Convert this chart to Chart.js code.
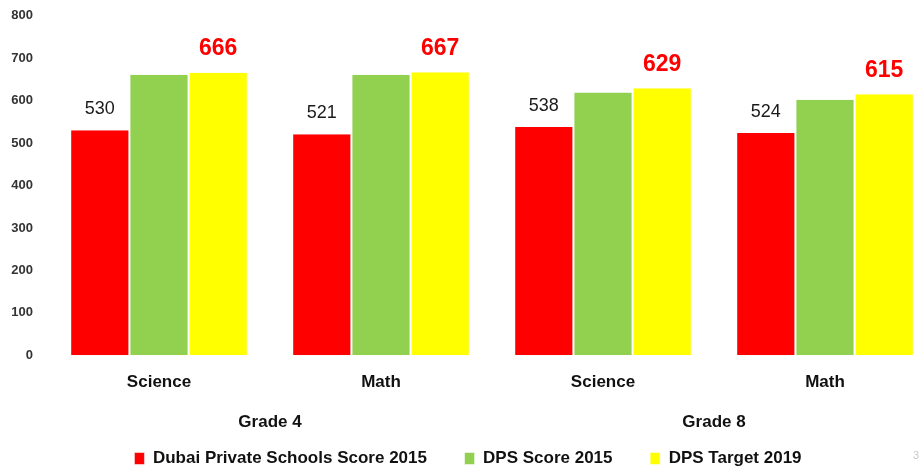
<!DOCTYPE html>
<html>
<head>
<meta charset="utf-8">
<script src="https://cdn.jsdelivr.net/npm/chart.js@4.4.1/dist/chart.umd.min.js"></script>
<style>
  html, body { margin: 0; padding: 0; background: #fff; overflow: hidden; }
  #wrap { position: relative; width: 952px; height: 480px; margin-top: -7px; }
  #pageNo { position: absolute; left: 913px; top: 449px; font: 11px 'Liberation Sans', sans-serif; color: #c8c8d0; }
</style>
</head>
<body>
<div id="wrap">
  <canvas id="myChart" width="952" height="480"></canvas>
</div>
<div id="pageNo">3</div>
<script>
/*global Chart*/

// values
var subjects = ["Science", "Math", "Science", "Math"];
var grades = ["Grade 4", "Grade 8"];
var dubaiPrivate2015 = [530, 521, 538, 524];
var dpsScore2015 = [661, 661, 619, 602];
var dpsTarget2019 = [666, 667, 629, 615];
var yTicks = [0, 100, 200, 300, 400, 500, 600, 700, 800];

var FONT = "'Liberation Sans', Arial, sans-serif";

// labels over the red and yellow bars
var barLabels = {
    id: "barLabels",
    afterDatasetsDraw: function(chart, args, opts){
        var ctx = chart.ctx;
        opts.styles.forEach(function(st){
            var meta = chart.getDatasetMeta(st.dataset);
            var values = chart.data.datasets[st.dataset].data;
            ctx.save();
            ctx.font = st.font;
            ctx.fillStyle = st.color;
            ctx.textAlign = "center";
            ctx.textBaseline = "middle";
            meta.data.forEach(function(bar, i){
                ctx.fillText(values[i], bar.x, bar.y - st.offset);
            });
            ctx.restore();
        });
    }
};

var data = {
    labels: subjects,
    datasets: [
        {
            label: "Dubai Private Schools Score 2015",
            data: dubaiPrivate2015,
            backgroundColor: "#ff0000",
            borderColor: "#ffffff",
            borderWidth: {left: 1, right: 1, top: 0, bottom: 0}
        },
        {
            label: "DPS Score 2015",
            data: dpsScore2015,
            backgroundColor: "#92d050",
            borderColor: "#ffffff",
            borderWidth: {left: 1, right: 1, top: 0, bottom: 0}
        },
        {
            label: "DPS Target 2019",
            data: dpsTarget2019,
            backgroundColor: "#ffff00",
            borderColor: "#ffffff",
            borderWidth: {left: 1, right: 1, top: 0, bottom: 0}
        }
    ]
};

var options = {
    responsive: false,
    animation: false,
    layout: { padding: { top: 0, right: 16, bottom: -4, left: 0 } },
    datasets: { bar: { categoryPercentage: 0.8, barPercentage: 1.0 } },
    scales: {
        x: {
            grid: { display: false, drawTicks: false },
            border: { display: false },
            ticks: { color: "#111", padding: 17, font: { family: FONT, size: 17, weight: "bold" } }
        },
        x2: {
            type: "category",
            position: "bottom",
            labels: grades,
            offset: true,
            grid: { display: false, drawTicks: false },
            border: { display: false },
            ticks: { color: "#111", padding: 3, font: { family: FONT, size: 17, weight: "bold" } }
        },
        y: {
            min: 0,
            max: 800,
            afterBuildTicks: function(scale){
                scale.ticks = yTicks.map(function(v){ return {value: v}; });
            },
            afterFit: function(scale){ scale.width = 48; },
            grid: { display: false, drawTicks: false },
            border: { display: false },
            ticks: { color: "#333", padding: 15, font: { family: FONT, size: 13, weight: "bold" } }
        }
    },
    plugins: {
        legend: {
            display: true,
            position: "bottom",
            labels: {
                boxWidth: 10,
                boxHeight: 12,
                padding: 14,
                color: "#111",
                font: { family: FONT, size: 17, weight: "bold" },
                generateLabels: function(chart){
                    var items = Chart.defaults.plugins.legend.labels.generateLabels(chart);
                    // extra room between the legend entries
                    items.forEach(function(item, i){
                        if (i < items.length - 1) item.text = item.text + "     ";
                    });
                    return items;
                }
            }
        },
        tooltip: { enabled: false },
        barLabels: {
            styles: [
                { dataset: 0, color: "#1a1a1a", font: "18px " + FONT, offset: 21 },
                { dataset: 2, color: "#ff0000", font: "bold 23px " + FONT, offset: 24 }
            ]
        }
    }
};

var ctx = document.getElementById("myChart");
var chart = new Chart(ctx, {
    type: "bar",
    data: data,
    options: options,
    plugins: [barLabels]
});
</script>
</body>
</html>
